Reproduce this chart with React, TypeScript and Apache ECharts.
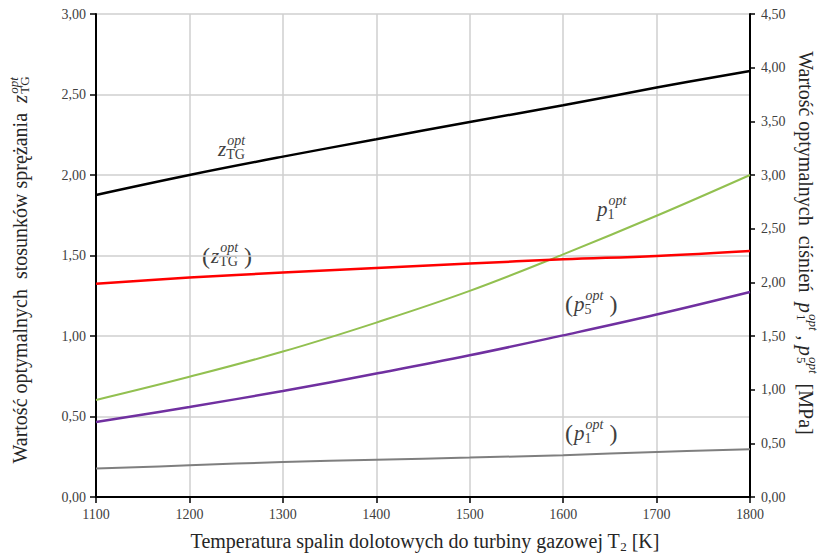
import React, { useEffect, useRef } from "react";
import * as echarts from "echarts";

const temps = [1100, 1200, 1300, 1400, 1500, 1600, 1700, 1800];
// left axis (ratios)
const zTG = [1.876, 2.0, 2.114, 2.222, 2.329, 2.433, 2.543, 2.646];
const zTGalt = [1.325, 1.363, 1.394, 1.422, 1.45, 1.476, 1.497, 1.528];
// right axis (pressures, MPa)
const p1 = [0.904, 1.12, 1.355, 1.625, 1.92, 2.26, 2.62, 3.0];
const p5alt = [0.699, 0.839, 0.988, 1.15, 1.32, 1.506, 1.7, 1.91];
const p1alt = [0.265, 0.295, 0.326, 0.348, 0.367, 0.39, 0.42, 0.444];

const FAM = '"Liberation Serif", "Times New Roman", serif';
const TXT = "#262626";

type Seg = { t: string; size: number; italic?: boolean; dy?: number; stack?: boolean; dx?: number };

let ctx: CanvasRenderingContext2D | null = null;
function measure(s: Seg) {
  if (!ctx) ctx = document.createElement("canvas").getContext("2d");
  ctx!.font = `${s.italic ? "italic " : ""}${s.size}px ${FAM}`;
  return ctx!.measureText(s.t).width;
}

function layout(segs: Seg[], color: string, center: boolean) {
  const items: any[] = [];
  let x = 0;
  for (let i = 0; i < segs.length; i++) {
    const s = segs[i];
    const w = measure(s);
    const mk = (seg: Seg, px: number) => ({
      type: "text",
      x: px + (seg.dx || 0),
      y: seg.dy || 0,
      style: {
        text: seg.t,
        fontSize: seg.size,
        fontFamily: FAM,
        fontStyle: seg.italic ? "italic" : "normal",
        fill: color,
        align: "left",
        verticalAlign: "middle",
      },
    });
    items.push(mk(s, x));
    if (s.stack && i + 1 < segs.length) {
      const n = segs[i + 1];
      const w2 = measure(n);
      items.push(mk(n, x));
      x += Math.max(w + (s.dx || 0), w2 + (n.dx || 0));
      i++;
    } else {
      x += w + (s.dx || 0);
    }
  }
  if (center) items.forEach((it) => (it.x -= x / 2));
  return { items, width: x };
}

function mathLabel(
  x: number,
  y: number,
  base: string,
  sub: string,
  paren: boolean,
  bg: boolean
) {
  const segs: Seg[] = [];
  if (paren) segs.push({ t: "(", size: 24, dy: 0 });
  segs.push({ t: base, size: 21, italic: true, dy: 0, dx: 1 });
  segs.push({ t: "opt", size: 14, italic: true, dy: -9, stack: true, dx: 1 });
  segs.push({ t: sub, size: 14, dy: 5, dx: 0 });
  if (paren) segs.push({ t: " )", size: 24, dy: 0 });
  const { items, width } = layout(segs, "#404040", false);
  const children: any[] = [];
  if (bg)
    children.push({
      type: "rect",
      shape: { x: -4, y: -14, width: width + 8, height: 28 },
      style: { fill: "#fff" },
    });
  return { type: "group", x, y, children: children.concat(items) };
}

function rotatedTitle(cx: number, cy: number, rot: number, segs: Seg[]) {
  const { items } = layout(segs, TXT, true);
  return { type: "group", x: cx, y: cy, rotation: rot, children: items };
}

const T = 20;

export default function App() {
  const ref = useRef<HTMLDivElement>(null);
  useEffect(() => {
    const chart = echarts.init(ref.current!, null, { renderer: "svg" });
    const fmt = (v: number) => v.toFixed(2).replace(".", ",");
    const axisLabel = { color: "#404040", fontFamily: FAM, fontSize: 14 };
    const mkSeries = (name: string, vals: number[], color: string, width: number, yIdx: number, smooth: boolean) => ({
      name,
      type: "line",
      yAxisIndex: yIdx,
      data: temps.map((t, i) => [t, vals[i]]),
      showSymbol: false,
      smooth: smooth ? 0.4 : false,
      lineStyle: { color, width },
      itemStyle: { color },
      z: 5,
    });
    chart.setOption({
      animation: false,
      backgroundColor: "#fff",
      grid: { left: 96, right: 76, top: 14, bottom: 59, containLabel: false },
      xAxis: {
        type: "value",
        min: 1100,
        max: 1800,
        interval: 100,
        axisLine: { show: true, onZero: false, lineStyle: { color: "#000", width: 2 } },
        axisTick: { show: true, length: 6, lineStyle: { color: "#000", width: 1.5 } },
        axisLabel: { ...axisLabel, margin: 10, formatter: (v: number) => String(v) },
        splitLine: { show: true, lineStyle: { color: "#cfcfcf", width: 1.5 } },
      },
      yAxis: [
        {
          type: "value",
          min: 0,
          max: 3,
          interval: 0.5,
          position: "left",
          axisLine: { show: true, onZero: false, lineStyle: { color: "#000", width: 2 } },
          axisTick: { show: true, length: 6, lineStyle: { color: "#000", width: 1.5 } },
          axisLabel: { ...axisLabel, margin: 10, formatter: fmt },
          splitLine: { show: true, lineStyle: { color: "#cfcfcf", width: 1.5 } },
        },
        {
          type: "value",
          min: 0,
          max: 4.5,
          interval: 0.5,
          position: "right",
          axisLine: { show: true, onZero: false, lineStyle: { color: "#000", width: 2 } },
          axisTick: { show: true, length: 5, lineStyle: { color: "#000", width: 1.5 } },
          axisLabel: { ...axisLabel, margin: 11, formatter: fmt },
          splitLine: { show: false },
        },
      ],
      series: [
        mkSeries("p1alt", p1alt, "#7f7f7f", 2, 1, true),
        mkSeries("p5alt", p5alt, "#7030a0", 2.5, 1, true),
        mkSeries("p1", p1, "#92c050", 2, 1, true),
        mkSeries("zTGalt", zTGalt, "#ff0000", 2.5, 0, true),
        mkSeries("zTG", zTG, "#000000", 2.5, 0, true),
      ],
      graphic: [
        mathLabel(217, 149, "z", "TG", false, false),
        mathLabel(202, 256, "z", "TG", true, true),
        mathLabel(596, 209, "p", "1", false, false),
        mathLabel(565, 304, "p", "5", true, false),
        mathLabel(565, 433, "p", "1", true, false),
        rotatedTitle(20, 270, Math.PI / 2, [
          { t: "Wartość optymalnych  stosunków sprężania  ", size: T },
          { t: "z", size: T + 1, italic: true },
          { t: "opt", size: 13, italic: true, dy: -7, stack: true, dx: 1 },
          { t: "TG", size: 13, dy: 4, dx: 1 },
        ]),
        rotatedTitle(806, 243, -Math.PI / 2, [
          { t: "Wartość optymalnych  ciśnień  ", size: T },
          { t: "p", size: T + 1, italic: true },
          { t: "opt", size: 13, italic: true, dy: -7, stack: true, dx: 1 },
          { t: "1", size: 13, dy: 5, dx: 1 },
          { t: " , ", size: T },
          { t: "p", size: T + 1, italic: true },
          { t: "opt", size: 13, italic: true, dy: -7, stack: true, dx: 1 },
          { t: "5", size: 13, dy: 5, dx: 1 },
          { t: "  [MPa]", size: T },
        ]),
        rotatedTitle(425, 541, 0, [
          { t: "Temperatura spalin dolotowych do turbiny gazowej T", size: T },
          { t: "2", size: 13, dy: 5 },
          { t: " [K]", size: T },
        ]),
      ],
    });
    return () => chart.dispose();
  }, []);
  return <div ref={ref} style={{ width: 826, height: 556, position: "absolute", left: 0, top: 0 }} />;
}
